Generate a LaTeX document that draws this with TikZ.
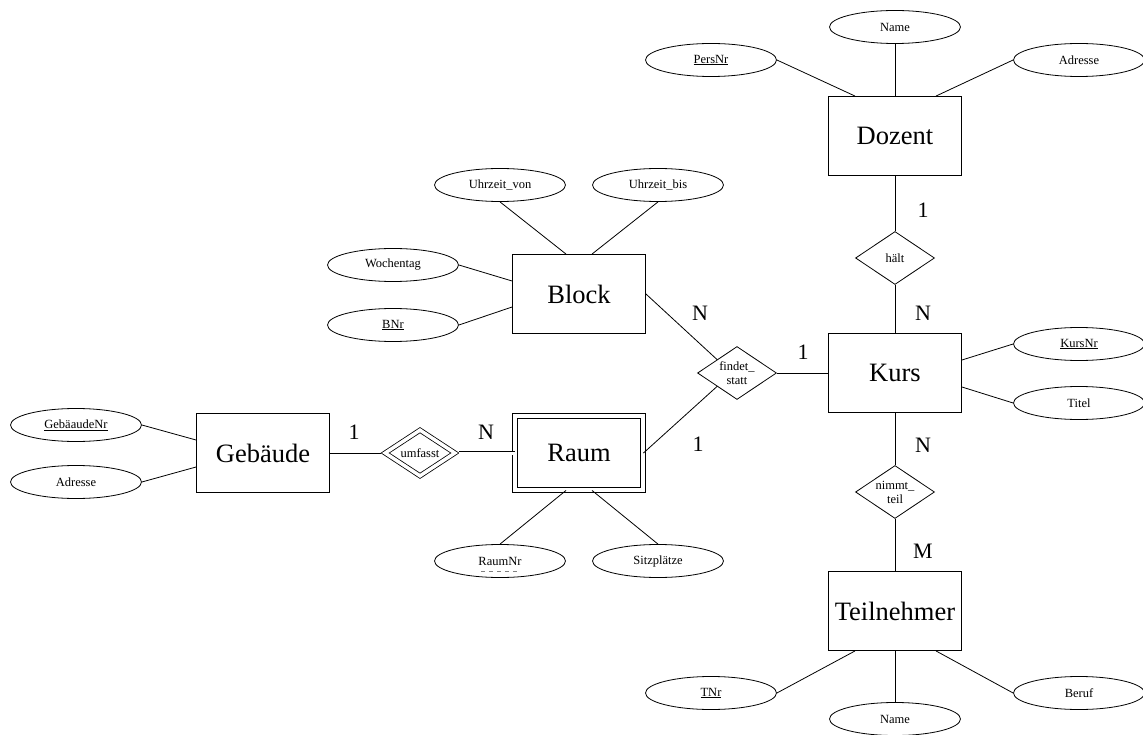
\documentclass[tikz,border=0pt]{standalone}
\usepackage{fontspec}
\setmainfont{Liberation Serif}
\usetikzlibrary{shapes.geometric}

\tikzstyle{entity}=[rectangle,draw,line width=0.9pt,minimum width=133pt,minimum height=79pt,font=\fontsize{26.5}{30}\selectfont]
\tikzstyle{weakentity}=[entity,double,double distance=4pt,minimum width=128pt,minimum height=74pt]
\tikzstyle{attrib}=[ellipse,draw,line width=0.8pt,inner sep=0pt,minimum width=131pt,minimum height=33pt,font=\fontsize{12.5}{14}\selectfont]
\tikzstyle{relship}=[diamond,draw,line width=0.8pt,aspect=1.5,inner sep=0pt,minimum width=79pt,minimum height=53pt,align=center,font=\fontsize{12.5}{14}\selectfont]
\tikzstyle{weakrel}=[relship,double,double distance=3.5pt,minimum width=70pt,minimum height=46pt]
\tikzstyle{card}=[inner sep=0pt,font=\fontsize{22}{26}\selectfont]

\begin{document}
\begin{tikzpicture}[x=1pt,y=-1pt]
  \useasboundingbox (0,0) rectangle (1143,735);
  \node (dozent) [entity] at (895,136) {Dozent};
  \node (kurs) [entity] at (895,373) {Kurs};
  \node (teilnehmer) [entity] at (895,611) {Teilnehmer};
  \node (block) [entity] at (579,294) {Block};
  \node (raum) [weakentity] at (579,453) {Raum};
  \node (gebaeude) [entity] at (263,453) {Gebäude};
  \node (haelt) [relship] at (895,258) {hält};
  \node (findetstatt) [relship] at (737,373) {findet\_\\statt};
  \node (nimmtteil) [relship] at (895,492) {nimmt\_\\teil};
  \node (umfasst) [weakrel] at (420,453) {umfasst};

  \node (dozname) [attrib] at (895,27) {Name};
  \node (persnr) [attrib] at (711,60) {\underline{PersNr}};
  \node (dozadresse) [attrib] at (1079,60) {Adresse};
  \node (kursnr) [attrib] at (1079,344) {\underline{KursNr}};
  \node (titel) [attrib] at (1079,403) {Titel};
  \node (tnr) [attrib] at (711,693) {\underline{TNr}};
  \node (tname) [attrib] at (895,719) {Name};
  \node (beruf) [attrib] at (1079,693) {Beruf};
  \node (uhrvon) [attrib] at (500,185) {Uhrzeit\_von};
  \node (uhrbis) [attrib] at (658,185) {Uhrzeit\_bis};
  \node (wochentag) [attrib] at (393,265) {Wochentag};
  \node (bnr) [attrib] at (393,325) {\underline{BNr}};
  \node (gebnr) [attrib] at (76,425) {\underline{GebäaudeNr}};
  \node (gebadresse) [attrib] at (76,482) {Adresse};
  \node (raumnr) [attrib] at (500,561) {RaumNr};
  \node (sitzplaetze) [attrib] at (658,561) {Sitzplätze};
  \draw[gray,line width=0.8pt,dash pattern=on 4pt off 4pt] ([xshift=-19pt,yshift=-10pt]raumnr.center) -- ([xshift=19pt,yshift=-10pt]raumnr.center);

  \node (cardDozent) [card] at (923,210) {1};
  \node (cardKursHaelt) [card] at (923,313) {N};
  \node (cardBlock) [card] at (700,313) {N};
  \node (cardKursFindet) [card] at (803,352) {1};
  \node (cardRaumFindet) [card] at (698,444) {1};
  \node (cardGebaeude) [card] at (354,432) {1};
  \node (cardRaum) [card] at (486,432) {N};
  \node (cardKursNimmt) [card] at (923,445) {N};
  \node (cardTeilnehmer) [card] at (923,551) {M};

  \path[line width=0.8pt]
  (persnr.east) edge ([xshift=-40pt]dozent.north)
  (dozname.south) edge (dozent.north)
  (dozadresse.west) edge ([xshift=41pt]dozent.north)
  (dozent.south) edge (haelt.north)
  (haelt.south) edge (kurs.north)
  ([yshift=13pt]kurs.east) edge (kursnr.west)
  ([yshift=-14pt]kurs.east) edge (titel.west)
  (kurs.south) edge (nimmtteil.north)
  (nimmtteil.south) edge (teilnehmer.north)
  ([xshift=-40pt]teilnehmer.south) edge (tnr.east)
  (teilnehmer.south) edge (tname.north)
  ([xshift=41pt]teilnehmer.south) edge (beruf.west)
  (findetstatt.east) edge (kurs.west)
  (block.east) edge (findetstatt.north west)
  (raum.east) edge (findetstatt.south west)
  (uhrvon.south) edge ([xshift=-13pt]block.north)
  (uhrbis.south) edge ([xshift=13pt]block.north)
  (wochentag.east) edge ([yshift=13pt]block.west)
  (bnr.east) edge ([yshift=-13pt]block.west)
  ([xshift=-13pt]raum.south) edge (raumnr.north)
  ([xshift=13pt]raum.south) edge (sitzplaetze.north)
  (gebnr.east) edge ([yshift=13pt]gebaeude.west)
  (gebadresse.east) edge ([yshift=-14pt]gebaeude.west)
  (gebaeude.east) edge ([xshift=-4pt]umfasst.west)
  ([xshift=4pt]umfasst.east) edge[double,double distance=3pt] (raum.west);
\end{tikzpicture}
\end{document}
